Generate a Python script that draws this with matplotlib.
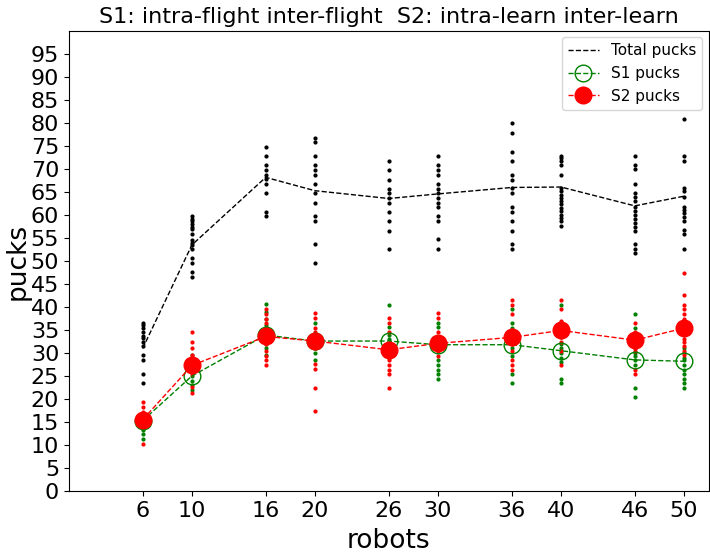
import matplotlib
matplotlib.use("Agg")
import matplotlib.pyplot as plt

# robots on the x axis
robots = [6, 10, 16, 20, 26, 30, 36, 40, 46, 50]

# mean pucks per robot count
total_mean = [31.0, 53.5, 68.2, 65.3, 63.6, 64.6, 66.0, 66.1, 62.0, 64.1]
s1_mean = [15.3, 25.0, 33.9, 32.6, 32.6, 31.8, 31.8, 30.5, 28.5, 28.2]
s2_mean = [15.5, 27.3, 33.6, 32.6, 30.7, 32.1, 33.4, 34.9, 32.8, 35.4]

# single trials, one list per robot count
total_trials = [
    [36.6, 36.0, 35.4, 34.6, 33.8, 33.3, 32.5, 31.5, 29.5, 28.5, 25.5, 23.5],
    [59.8, 59.2, 58.7, 58.1, 57.5, 56.9, 55.8, 54.6, 54.0, 53.5, 52.6, 50.6, 49.6, 47.7, 46.5],
    [74.8, 72.8, 70.8, 69.8, 68.8, 67.9, 66.7, 64.7, 60.7, 59.7],
    [76.8, 75.8, 72.8, 70.8, 69.8, 68.8, 66.7, 64.7, 62.7, 59.7, 58.7, 53.6, 49.6],
    [71.8, 69.8, 67.7, 65.7, 64.7, 63.7, 62.7, 60.7, 58.7, 56.6, 52.6],
    [72.8, 70.8, 69.8, 68.8, 66.7, 65.7, 64.7, 63.7, 62.7, 61.7, 59.7, 58.7, 54.7, 52.6],
    [80.0, 77.9, 73.8, 71.8, 68.8, 67.7, 65.9, 64.7, 61.8, 60.7, 58.7, 56.6, 53.8, 52.6],
    [72.9, 72.4, 71.8, 70.8, 68.8, 65.9, 65.2, 64.4, 63.7, 63.0, 62.3, 61.5, 60.8, 60.1, 59.4, 58.7, 57.7],
    [72.8, 70.9, 70.1, 66.7, 64.9, 64.0, 63.0, 61.8, 60.8, 60.0, 59.1, 58.2, 57.4, 56.6, 53.8, 52.7, 51.7],
    [80.9, 72.8, 71.8, 65.9, 65.3, 63.9, 61.8, 61.1, 60.4, 59.5, 58.7, 56.8, 55.8, 52.6],
]
s1_trials = [
    [17.0, 16.0, 15.5, 15.0, 14.0, 13.3, 12.3, 11.3],
    [29.5, 28.5, 27.0, 26.0, 25.0, 24.0, 23.0, 22.0],
    [40.7, 39.0, 37.5, 36.0, 35.0, 34.0, 33.0, 32.0, 31.0, 29.5],
    [36.5, 34.0, 33.0, 32.0, 31.0, 30.0, 28.5],
    [40.5, 35.6, 34.0, 33.0, 32.0, 31.0, 30.0, 29.0],
    [36.6, 35.6, 33.0, 32.0, 31.0, 28.4, 27.3, 26.4, 25.4, 24.4],
    [39.5, 36.5, 35.5, 33.0, 32.0, 31.0, 29.4, 25.4, 23.4],
    [40.5, 33.5, 32.0, 31.0, 30.0, 29.0, 28.0, 24.4, 23.4],
    [38.5, 35.5, 31.0, 30.0, 29.4, 28.4, 27.3, 22.4, 20.4],
    [31.0, 30.0, 29.0, 28.4, 27.4, 26.4, 25.4, 24.4, 23.4, 22.4],
]
s2_trials = [
    [19.4, 18.3, 17.2, 16.5, 16.0, 15.0, 14.5, 10.3],
    [34.6, 32.5, 31.0, 29.5, 28.5, 27.5, 26.5, 25.5, 22.7, 21.4],
    [39.6, 38.5, 37.5, 36.5, 35.0, 34.0, 33.0, 32.0, 30.5, 29.4, 28.4, 27.4],
    [38.7, 37.6, 35.5, 34.6, 33.0, 32.0, 31.0, 27.5, 26.5, 22.4, 17.4],
    [37.6, 36.6, 34.6, 32.0, 31.0, 30.0, 29.4, 28.4, 27.3, 26.4, 25.4, 22.4],
    [38.7, 37.7, 34.6, 33.5, 32.5, 31.5, 30.5, 29.4],
    [41.6, 40.5, 38.5, 35.0, 34.0, 33.0, 32.0, 30.5, 28.4, 27.4, 26.4],
    [41.6, 39.5, 37.0, 36.0, 35.0, 34.0, 33.5, 32.5, 30.5, 27.4],
    [36.5, 34.6, 33.5, 33.0, 32.0, 31.0, 30.5, 26.4, 25.4],
    [47.5, 42.6, 40.5, 39.5, 38.5, 37.5, 36.0, 35.0, 34.0, 33.0, 32.5, 31.5, 30.5, 29.5],
]

fig = plt.figure(figsize=(7.1, 5.56), dpi=100)
ax = fig.add_axes([0.097, 0.117, 0.901, 0.827])

# trial dots
for r, tt, a, b in zip(robots, total_trials, s1_trials, s2_trials):
    ax.scatter([r] * len(tt), tt, s=4, color='black', zorder=2)
    ax.scatter([r] * len(a), a, s=4, color='green', zorder=2)
    ax.scatter([r] * len(b), b, s=4, color='red', zorder=2)

ax.plot(robots, total_mean, '--', color='black', lw=1, label='Total pucks', zorder=3)
ax.plot(robots, s1_mean, '--o', color='green', lw=1, markersize=12,
        markerfacecolor='none', label='S1 pucks', zorder=3)
ax.plot(robots, s2_mean, '--o', color='red', lw=1, markersize=12,
        label='S2 pucks', zorder=4)

ax.set_xlim(0, 52)
ax.set_ylim(0, 100)
ax.set_xticks(robots)
ax.set_yticks(list(range(0, 100, 5)))
ax.tick_params(labelsize=16)
ax.set_xlabel('robots', fontsize=19, labelpad=5)
ax.set_ylabel('pucks', fontsize=19, labelpad=0)
ax.set_title('S1: intra-flight inter-flight  S2: intra-learn inter-learn', fontsize=16)
ax.legend(loc='upper right', fontsize=11, borderaxespad=0.4)

fig.savefig('out.png', dpi=100)
